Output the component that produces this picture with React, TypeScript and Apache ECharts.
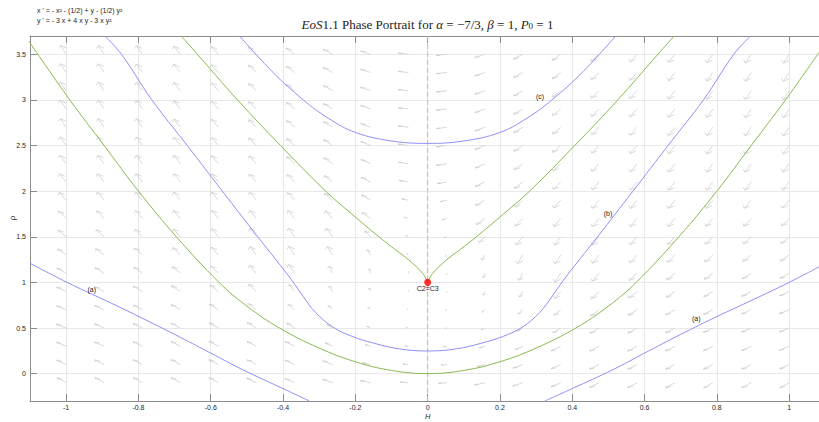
import React, { useEffect, useRef } from "react";
import * as echarts from "echarts";

// Axis ranges and ticks
const X_MIN = -1.1;
const X_MAX = 1.0826;
const Y_MIN = -0.3;
const Y_MAX = 3.7;
const xTicks = [-1, -0.8, -0.6, -0.4, -0.2, 0, 0.2, 0.4, 0.6, 0.8, 1];
const yTicks = [0, 0.5, 1, 1.5, 2, 2.5, 3, 3.5];

// Direction-field sample grid
const fieldX = [-1.0, -0.895, -0.789, -0.684, -0.579, -0.474, -0.368, -0.263, -0.158, -0.053,
  0.053, 0.158, 0.263, 0.368, 0.474, 0.579, 0.684, 0.789, 0.895, 1.0];
const fieldY = [-0.1, 0.1, 0.3, 0.5, 0.7, 0.9, 1.1, 1.3, 1.5, 1.7, 1.9, 2.1, 2.3, 2.5, 2.7, 2.9, 3.1, 3.3, 3.5];

// Trajectories
const curveA_left: [number, number][] = [
  [-1.1, 1.21], [-1.0, 1.005], [-0.853, 0.73], [-0.7, 0.43], [-0.6, 0.225], [-0.512, 0.044], [-0.4, -0.164], [-0.327, -0.3],
];
const curveA_right: [number, number][] = [
  [0.324, -0.3], [0.4, -0.164], [0.513, 0.044], [0.6, 0.225], [0.7, 0.43], [0.8, 0.625], [0.9, 0.81], [1.0, 1.0], [1.0826, 1.17],
];
const curveB: [number, number][] = [
  [-0.893, 3.7], [-0.847, 3.5], [-0.763, 3.0], [-0.665, 2.5], [-0.568, 2.0], [-0.47, 1.5], [-0.42, 1.25], [-0.375, 1.02],
  [-0.345, 0.85], [-0.31, 0.67], [-0.262, 0.51], [-0.21, 0.41], [-0.15, 0.335], [-0.08, 0.272], [0, 0.248],
  [0.08, 0.272], [0.15, 0.335], [0.21, 0.41], [0.262, 0.51], [0.31, 0.67], [0.345, 0.85], [0.375, 1.02],
  [0.42, 1.25], [0.47, 1.5], [0.568, 2.0], [0.665, 2.5], [0.763, 3.0], [0.847, 3.5], [0.893, 3.7],
];
const curveC: [number, number][] = [
  [-0.52, 3.7], [-0.43, 3.31], [-0.344, 3.0], [-0.275, 2.8], [-0.2, 2.643], [-0.1, 2.55], [0, 2.523],
  [0.1, 2.55], [0.2, 2.643], [0.275, 2.8], [0.344, 3.0], [0.43, 3.31], [0.52, 3.7],
];
const greenOuter: [number, number][] = [
  [-1.106, 3.66], [-0.99, 3.0], [-0.895, 2.5], [-0.8, 2.0], [-0.695, 1.5], [-0.577, 1.0], [-0.5, 0.74], [-0.41, 0.5],
  [-0.3, 0.28], [-0.2, 0.13], [-0.1, 0.035], [0, 0],
  [0.1, 0.035], [0.2, 0.13], [0.3, 0.28], [0.41, 0.5], [0.5, 0.74], [0.577, 1.0], [0.695, 1.5], [0.8, 2.0],
  [0.895, 2.5], [0.99, 3.0], [1.0826, 3.52],
];
const greenInnerLeft: [number, number][] = [
  [0, 1], [-0.014, 1.1], [-0.052, 1.245], [-0.09, 1.36], [-0.135, 1.5], [-0.21, 1.75], [-0.282, 2.0],
  [-0.407, 2.5], [-0.526, 3.0], [-0.637, 3.5], [-0.682, 3.7],
];
const greenInnerRight: [number, number][] = [
  [0, 1], [0.014, 1.1], [0.052, 1.245], [0.09, 1.36], [0.135, 1.5], [0.21, 1.75], [0.282, 2.0],
  [0.407, 2.5], [0.526, 3.0], [0.637, 3.5], [0.682, 3.7],
];
const equilibrium: [number, number][] = [[0, 1]];
const annotations: [number, number, string][] = [
  [-0.929, 0.927, "(a)"],
  [0.743, 0.6, "(a)"],
  [0.499, 1.757, "(b)"],
  [0.311, 3.04, "(c)"],
  [0, 0.938, "C2=C3"],
];

const BLUE = "#8f8ff7";
const GREEN = "#88b94f";
const LABEL_COLOR = "#1a1a1a";

// the system printed on the figure: x' = -x^2 - 1/2 + y - y^2/2 ; y' = -3x + 4xy - 3xy^2
function xDot(x: number, y: number) {
  return -x * x - 0.5 + y - 0.5 * y * y;
}
function yDot(x: number, y: number) {
  return -3 * x + 4 * x * y - 3 * x * y * y;
}

export default function App() {
  const ref = useRef<HTMLDivElement>(null);
  useEffect(() => {
    if (!ref.current) return;
    const chart = echarts.init(ref.current, null, { renderer: "svg" });

    const field: number[][] = [];
    for (const fx of fieldX) {
      for (const fy of fieldY) {
        field.push([fx, fy, xDot(fx, fy), yDot(fx, fy)]);
      }
    }

    const lineSeries = (data: [number, number][], color: string) => ({
      type: "line",
      data,
      showSymbol: false,
      symbol: "none",
      smooth: 0.4,
      lineStyle: { color, width: 1 },
      z: 3,
      silent: true,
    });

    const axisText = { fontSize: 7, color: "#262626", fontFamily: "Liberation Sans, Arial, sans-serif" };

    chart.setOption({
      animation: false,
      backgroundColor: "#ffffff",
      grid: { left: 30, right: 0, top: 36, bottom: 21, containLabel: false, outerBoundsMode: "none" },
      xAxis: [
        {
          type: "value",
          min: X_MIN,
          max: X_MAX,
          position: "bottom",
          axisLine: { show: true, onZero: false, lineStyle: { color: "#8c8c8c", width: 1 } },
          axisTick: { show: true, inside: true, length: 7, customValues: xTicks, lineStyle: { color: "#8c8c8c" } },
          axisLabel: { ...axisText, margin: 3, customValues: xTicks },
          splitLine: { show: true, lineStyle: { color: "#e8e8e8", width: 1 } },
        },
        {
          type: "value",
          min: X_MIN,
          max: X_MAX,
          position: "top",
          axisLine: { show: true, onZero: false, lineStyle: { color: "#8c8c8c", width: 1 } },
          axisTick: { show: true, inside: true, length: 7, customValues: xTicks, lineStyle: { color: "#8c8c8c" } },
          axisLabel: { show: false },
          splitLine: { show: false },
        },
      ],
      yAxis: [
        {
          type: "value",
          min: Y_MIN,
          max: Y_MAX,
          axisLine: { show: true, onZero: false, lineStyle: { color: "#8c8c8c", width: 1 } },
          axisTick: { show: true, inside: true, length: 7, customValues: yTicks, lineStyle: { color: "#8c8c8c" } },
          axisLabel: { ...axisText, margin: 4, customValues: yTicks },
          splitLine: { show: true, lineStyle: { color: "#e8e8e8", width: 1 } },
        },
      ],
      series: [
        {
          type: "custom",
          name: "field",
          data: field,
          silent: true,
          z: 1,
          itemStyle: { color: "#cccccc" },
          renderItem: (params: any, api: any) => {
            const x = api.value(0);
            const y = api.value(1);
            const u = api.value(2);
            const v = api.value(3);
            const p0 = api.coord([x, y]);
            const sz = api.size([1, 1]);
            const sx = sz[0];
            const sy = sz[1];
            const dxp = u * sx;
            const dyp = -v * sy;
            const lp = Math.hypot(dxp, dyp);
            const mag = Math.hypot(u, v);
            const len = 10.5 * Math.min(1, mag / 0.8);
            if (lp === 0 || len < 0.4) return null;
            const ex = (dxp / lp) * len;
            const ey = (dyp / lp) * len;
            const p1 = [p0[0] + ex, p0[1] + ey];
            const us = ex / sx;
            const vs = -ey / sy;
            const a = 0.33;
            const b = 0.33;
            const h1 = api.coord([x + us - a * (us + b * vs), y + vs - a * (vs - b * us)]);
            const h2 = api.coord([x + us - a * (us - b * vs), y + vs - a * (vs + b * us)]);
            const style = { stroke: "#cccccc", lineWidth: 0.75, fill: "none" };
            return {
              type: "group",
              children: [
                { type: "polyline", shape: { points: [p0, p1] }, style },
                { type: "polyline", shape: { points: [h1, p1, h2] }, style },
              ],
            };
          },
        },
        {
          type: "line",
          data: [[0, Y_MIN], [0, Y_MAX]],
          showSymbol: false,
          symbol: "none",
          lineStyle: { color: "#f5ad6e", width: 1, type: [5, 3] },
          z: 2,
          silent: true,
        },
        lineSeries(curveA_left, BLUE),
        lineSeries(curveA_right, BLUE),
        lineSeries(curveB, BLUE),
        lineSeries(curveC, BLUE),
        lineSeries(greenOuter, GREEN),
        lineSeries(greenInnerLeft, GREEN),
        lineSeries(greenInnerRight, GREEN),
        {
          type: "scatter",
          data: equilibrium,
          symbolSize: 7,
          itemStyle: { color: "#ff0000" },
          z: 5,
          silent: true,
        },
      ],
    });

    // annotation texts positioned through the chart's own scales
    const labelGraphics = annotations.map((item, i) => {
      const p = chart.convertToPixel({ gridIndex: 0 }, [item[0], item[1]]) as number[];
      return {
        type: "text",
        id: "ann" + i,
        x: p[0],
        y: p[1],
        z: 100,
        silent: true,
        style: {
          text: item[2],
          textAlign: "center",
          textVerticalAlign: "middle",
          font: "7px 'Liberation Sans', Arial, sans-serif",
          fill: LABEL_COLOR,
        },
      };
    });
    const xName = chart.convertToPixel({ gridIndex: 0 }, [0, Y_MIN]) as number[];

    chart.setOption({
      graphic: [
        {
          type: "text",
          id: "title",
          x: 427.5,
          y: 24,
          style: {
            text: "{i|EoS}1.1 Phase Portrait for {i|α} = −7/3, {i|β} = 1, {i|P}{s|0} = 1",
            textAlign: "center",
            textVerticalAlign: "middle",
            font: "13px 'Liberation Serif', 'DejaVu Serif', serif",
            fill: "#222",
            rich: {
              i: { fontStyle: "italic", fontSize: 13, fontFamily: "Liberation Serif" },
              s: { fontSize: 9, fontFamily: "Liberation Serif", verticalAlign: "bottom", lineHeight: 12 },
            },
          },
        },
        {
          type: "text",
          id: "eq1",
          x: 37,
          y: 10,
          style: {
            text: "x ' = - x² - (1/2) + y - (1/2) y²",
            font: "7px 'Liberation Sans', Arial, sans-serif",
            fill: "#222",
            textVerticalAlign: "middle",
          },
        },
        {
          type: "text",
          id: "eq2",
          x: 37,
          y: 20,
          style: {
            text: "y ' = - 3 x + 4 x y - 3 x y²",
            font: "7px 'Liberation Sans', Arial, sans-serif",
            fill: "#222",
            textVerticalAlign: "middle",
          },
        },
        {
          type: "text",
          id: "yname",
          x: 12,
          y: 218,
          rotation: Math.PI / 2,
          style: {
            text: "ρ",
            font: "8px 'Liberation Sans', Arial, sans-serif",
            fill: "#262626",
            textAlign: "center",
            textVerticalAlign: "middle",
          },
        },
        {
          type: "text",
          id: "xname",
          x: xName[0],
          y: 416.5,
          style: {
            text: "H",
            font: "italic 7.5px 'Liberation Sans', Arial, sans-serif",
            fill: "#262626",
            textAlign: "center",
            textVerticalAlign: "middle",
          },
        },
        ...labelGraphics,
      ],
    });
    return () => chart.dispose();
  }, []);
  return (
    <div
      ref={ref}
      style={{ position: "fixed", left: 0, top: 0, width: 819, height: 422, background: "#fff" }}
    />
  );
}
